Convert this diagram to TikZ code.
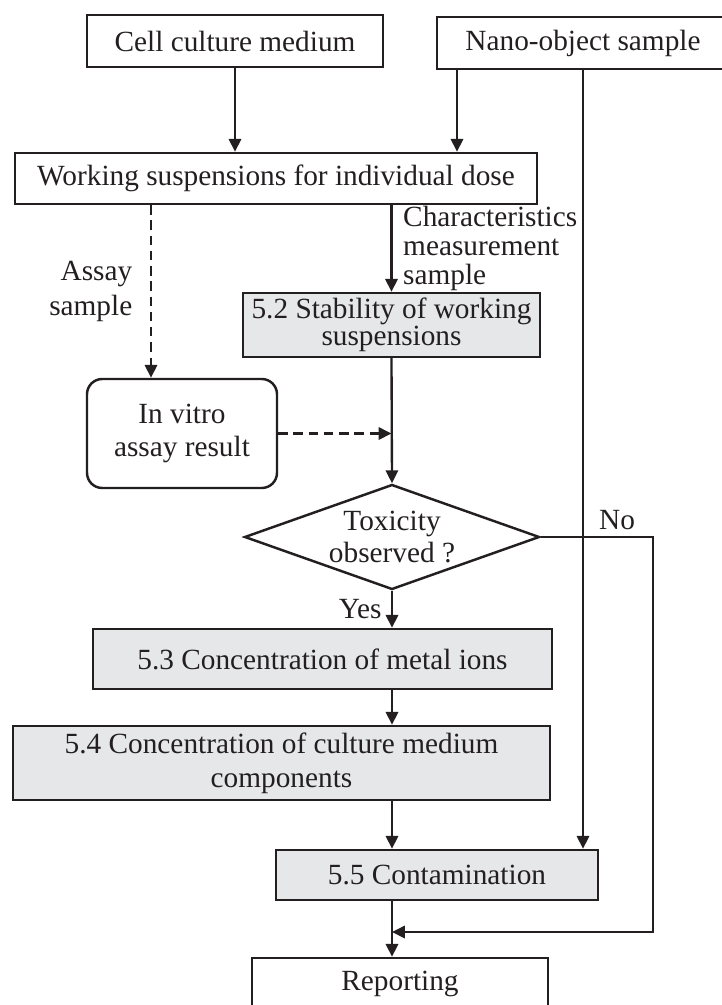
\documentclass[tikz,border=0pt]{standalone}
\usepackage{fontspec}
\setmainfont{Liberation Serif}
\usetikzlibrary{shapes.geometric,arrows.meta}

\definecolor{boxgray}{HTML}{E6E7E8}
\definecolor{inkgray}{HTML}{231F20}

\tikzset{
  plain/.style={draw=inkgray, line width=2.1pt, inner sep=0pt, text=inkgray,
    font=\fontsize{25}{21.5}\selectfont, align=center},
  section/.style={plain, fill=boxgray},
  decide/.style={plain, diamond, aspect=2.8},
  arr/.style={draw=inkgray, line width=2pt, -{Triangle[length=11pt,width=10.5pt]}},
  assayflow/.style={arr, dash pattern=on 8pt off 5pt},
  lbl/.style={inner sep=0pt, text=inkgray, font=\fontsize{25}{24.7}\selectfont},
}

\begin{document}
\begin{tikzpicture}[x=0.03cm, y=-0.03cm]
    \useasboundingbox (0,0) rectangle (721,1005);

    % Inputs
    \node[plain, minimum width=8.88cm, minimum height=1.56cm] (medium) at (235,41) {Cell culture medium};
    \node[plain, minimum width=8.76cm, minimum height=1.56cm] (nano) at (583,43) {Nano-object sample};
    \node[plain, minimum width=15.66cm, minimum height=1.53cm] (work) at (276,178.5) {Working suspensions for individual dose};

    % Checks
    \node[section, minimum width=8.91cm, minimum height=1.92cm] (stab) at (391.5,325) {5.2 Stability of working\\suspensions};
    \node[plain, rounded corners=13pt, minimum width=5.7cm, minimum height=3.27cm,
      font=\fontsize{25}{28}\selectfont] (vitro) at (182,433.5) {In vitro\\assay result};
    \node[decide, minimum width=8.85cm, minimum height=3.15cm,
      font=\fontsize{25}{28}\selectfont] (tox) at (392,537) {Toxicity\\observed ?};
    \node[section, minimum width=13.77cm, minimum height=1.8cm] (ions) at (322.5,659) {5.3 Concentration of metal ions};
    \node[section, minimum width=16.11cm, minimum height=2.22cm,
      font=\fontsize{25}{29}\selectfont] (comp) at (281.5,763) {5.4 Concentration of culture medium\\components};
    \node[section, minimum width=9.66cm, minimum height=1.5cm] (contam) at (437,875) {5.5 Contamination};
    \node[plain, minimum width=8.88cm, minimum height=1.56cm] (report) at (400,984) {Reporting};

    % helper points
    \coordinate (nanodrop) at (457,0);
    \coordinate (assaydrop) at (151,0);
    \coordinate (noturn) at (653,932);

    % Connectors
    \draw[arr] (medium.south) -- (medium.south |- work.north);
    \draw[arr] (nanodrop |- nano.south) -- (nanodrop |- work.north);
    \draw[arr] (nano.south) -- (nano.south |- contam.north);
    \draw[arr] (stab.north |- work.south) -- (stab.north)
      node[lbl, midway, right=9pt, align=left] (charlbl) {Characteristics\\measurement\\sample};
    \draw[assayflow] (assaydrop |- work.south) -- (assaydrop |- vitro.north)
      node[lbl, midway, left=15pt, align=right, font=\fontsize{25}{30}\selectfont] (assaylbl) {Assay\\sample};
    \draw[arr] (stab.south) -- (tox.north);
    \draw[assayflow] (vitro.east) -- (vitro.east -| stab.south);
    \draw[arr] (tox.south) -- (tox.south |- ions.north)
      node[lbl, midway, left=8pt] (yeslbl) {Yes};
    \draw[arr] (tox.south |- ions.south) -- (tox.south |- comp.north);
    \draw[arr] (tox.south |- comp.south) -- (tox.south |- contam.north);
    \draw[arr] (tox.south |- contam.south) -- (tox.south |- report.north);
    \draw[arr] (tox.east) -- node[lbl, pos=0.68, above=5pt] (nolbl) {No}
      (tox.east -| noturn) -- (noturn) -- (tox.south |- noturn);

\end{tikzpicture}
\end{document}
